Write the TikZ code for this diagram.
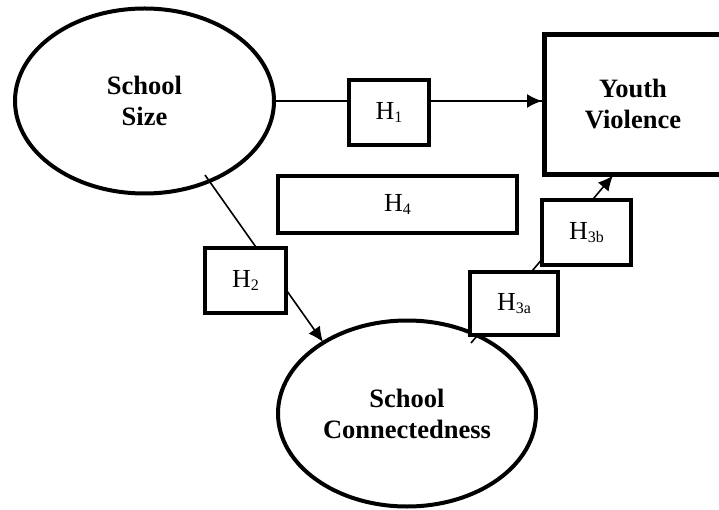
\documentclass[tikz,border=0pt]{standalone}
\usepackage{fontspec}
\setmainfont{Liberation Serif}
\usetikzlibrary{shapes.geometric,arrows.meta}
\newcommand\hsb[1]{\raisebox{-3.5pt}{\fontsize{16}{16}\selectfont #1}}
\tikzset{
  oval/.style={draw, ellipse, line width=4pt, fill=white, inner sep=0pt,
    font=\fontsize{26.5}{31}\selectfont\bfseries, align=center},
  hbox/.style={draw, rectangle, line width=3.6pt, fill=white, inner sep=0pt,
    font=\fontsize{26}{26}\selectfont},
  bigbox/.style={draw, rectangle, line width=5pt, fill=white, inner sep=0pt,
    font=\fontsize{26.5}{31}\selectfont\bfseries, align=center},
  conn/.style={line width=1.6pt},
  arr/.style={line width=1.6pt, -{Latex[length=15pt,width=14pt]}}
}
\begin{document}
\begin{tikzpicture}[x=1pt,y=-1pt]
\useasboundingbox (0,0) rectangle (719,510);
% ellipses and main box
\node[oval, minimum width=259pt, minimum height=185pt] (ss) at (144.5,101) {School\\Size};
\node[oval, minimum width=258pt, minimum height=186pt] (sc) at (407,413.5) {School\\Connectedness};
\node[bigbox, minimum width=190pt, minimum height=140pt, text width=170pt, anchor=north west] (yv) at (542,32) {};
\node[font=\fontsize{26.5}{31}\selectfont\bfseries, align=center] (yvt) at (633,104) {Youth\\Violence};
% connector end points
\coordinate (a2) at (205,175);
\coordinate (t2) at (323,342);
\coordinate (a3) at (471,343);
\coordinate (t3) at (613,175.5);
% connectors (behind hypothesis boxes)
\draw[conn] (ss.east) -- (yv.west |- ss.east);
\draw[arr] (yv.west |- ss.east) ++(-110,0) -- (yv.west |- ss.east);
\draw[arr] (a2) -- (t2);
\draw[arr] (a3) -- (t3);
% hypothesis boxes
\node[hbox, minimum width=80pt, minimum height=65pt] (h1) at (389,112.5) {H\hsb{1}};
\node[hbox, minimum width=239pt, minimum height=57pt] (h4) at (397.5,204.5) {H\hsb{4}};
\node[hbox, minimum width=81pt, minimum height=65pt] (h2) at (245.5,280.5) {H\hsb{2}};
\node[hbox, minimum width=88pt, minimum height=63pt] (h3a) at (514,303.5) {H\hsb{3a}};
\node[hbox, minimum width=89pt, minimum height=65pt] (h3b) at (586.5,232.5) {H\hsb{3b}};
\end{tikzpicture}
\end{document}
